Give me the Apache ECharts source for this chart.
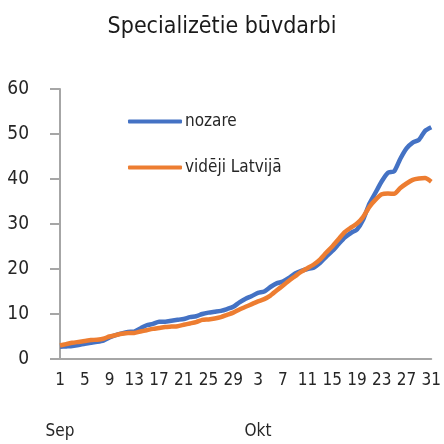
<!DOCTYPE html>
<html>
<head>
<meta charset="utf-8">
<script src="https://cdn.jsdelivr.net/npm/echarts@6/dist/echarts.min.js"></script>
<style>
  html, body { margin: 0; padding: 0; background: #fff; }
  #chart { width: 444px; height: 444px; }
</style>
</head>
<body>
<div id="chart"></div>
<script>
// dienas: Sep 1..30, Okt 1..31
const days = [];
for (let d = 1; d <= 30; d++) days.push(String(d));
for (let d = 1; d <= 31; d++) days.push(String(d));
const months = [];
for (let d = 1; d <= 30; d++) months.push('Sep');
for (let d = 1; d <= 31; d++) months.push('Okt');

const nozare = [
  2.7, 2.8, 2.9, 3.1, 3.4, 3.6, 3.8, 4.1, 4.8, 5.3,
  5.7, 6.0, 6.1, 6.8, 7.5, 7.8, 8.3, 8.3, 8.5, 8.7,
  8.9, 9.3, 9.5, 10.0, 10.3, 10.5, 10.7, 11.1, 11.6, 12.6,
  13.4, 14.0, 14.7, 15.0, 16.0, 16.8, 17.2, 18.0, 19.0, 19.6,
  20.0, 20.3, 21.3, 22.7, 24.0, 25.5, 27.0, 28.0, 28.8, 31.0,
  34.5, 37.0, 39.5, 41.4, 41.7, 44.5, 46.8, 48.1, 48.7, 50.7,
  51.5
];
const videjiLatvija = [
  3.0, 3.3, 3.6, 3.8, 4.0, 4.2, 4.3, 4.5, 5.0, 5.3,
  5.6, 5.8, 5.8, 6.1, 6.4, 6.7, 6.9, 7.1, 7.2, 7.3,
  7.6, 7.9, 8.2, 8.7, 8.8, 9.0, 9.3, 9.8, 10.3, 11.0,
  11.6, 12.2, 12.8, 13.3, 14.1, 15.2, 16.3, 17.4, 18.4, 19.4,
  20.2, 21.0, 22.1, 23.6, 25.0, 26.6, 28.2, 29.2, 30.1, 31.6,
  33.8, 35.4, 36.6, 36.8, 36.7, 38.0, 39.0, 39.8, 40.1, 40.2,
  39.4
];

const font = '"DejaVu Sans Condensed", "Liberation Sans Narrow", sans-serif';
const chart = echarts.init(document.getElementById('chart'));

const option = {
  animation: false,
  title: {
    text: 'Specializētie būvdarbi',
    left: 'center',
    top: 11,
    textStyle: { fontFamily: font, fontSize: 23, fontWeight: 'normal', color: '#1a1a1a' },
  },
  legend: {
    orient: 'vertical',
    left: 123,
    top: 108,
    itemWidth: 54,
    itemHeight: 4,
    itemGap: 29,
    icon: 'roundRect',
    textStyle: { fontFamily: font, fontSize: 17, color: '#262626', padding: [0, 0, 0, -2] },
    data: [
      { name: 'nozare', itemStyle: { color: '#4472C4' } },
      { name: 'vidēji Latvijā', itemStyle: { color: '#ED7D31' } },
    ],
  },
  grid: { left: 60, right: 9, top: 89, bottom: 85, containLabel: false },
  xAxis: [
    {
      type: 'category',
      data: days,
      boundaryGap: false,
      axisLine: { lineStyle: { color: '#a6a6a6', width: 2 } },
      axisTick: { show: false },
      axisLabel: {
        interval: 3,
        margin: 13,
        fontFamily: font,
        fontSize: 17,
        color: '#262626',
      },
    },
    {
      type: 'category',
      data: months,
      position: 'bottom',
      offset: 48,
      boundaryGap: false,
      axisLine: { show: false },
      axisTick: { show: false },
      axisLabel: {
        interval: (idx) => idx === 0 || idx === 32,
        margin: 16,
        fontFamily: font,
        fontSize: 17,
        color: '#262626',
      },
    },
  ],
  yAxis: {
    type: 'value',
    min: 0,
    max: 60,
    interval: 10,
    axisLine: { show: true, lineStyle: { color: '#a6a6a6', width: 2 } },
    axisTick: { show: true, length: 10, lineStyle: { color: '#a6a6a6', width: 2 } },
    splitLine: { show: false },
    axisLabel: {
      margin: 31,
      fontFamily: font,
      fontSize: 19,
      color: '#262626',
    },
  },
  series: [
    {
      name: 'nozare',
      type: 'line',
      data: nozare,
      showSymbol: false,
      smooth: 0.2,
      lineStyle: { color: '#4472C4', width: 4.5 },
      itemStyle: { color: '#4472C4' },
      z: 3,
    },
    {
      name: 'vidēji Latvijā',
      type: 'line',
      data: videjiLatvija,
      showSymbol: false,
      smooth: 0.2,
      lineStyle: { color: '#ED7D31', width: 4.5 },
      itemStyle: { color: '#ED7D31' },
      z: 4,
    },
  ],
};
chart.setOption(option);
</script>
</body>
</html>
